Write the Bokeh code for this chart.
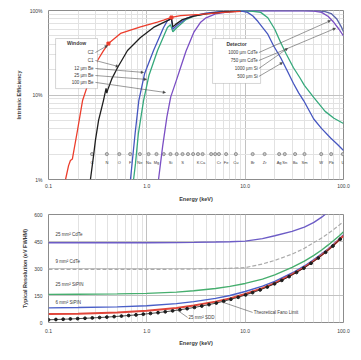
from bokeh.plotting import figure
from bokeh.layouts import column
from bokeh.models import FixedTicker, BoxAnnotation, Range1d, Label, Arrow, NormalHead
from bokeh.embed import file_html
from bokeh.resources import INLINE
from bokeh.core.properties import value

FONT = "Liberation Sans"
TXT = "#3a3a3a"

# ---------------- axes ----------------
x_ticks = [0.1, 1, 10, 100]
x_tick_labels = ["0.1", "1.0", "10.0", "100.0"]
x_minor = [0.2, 0.3, 0.4, 0.5, 0.6, 0.7, 0.8, 0.9, 2, 3, 4, 5, 6, 7, 8, 9,
           20, 30, 40, 50, 60, 70, 80, 90]
eff_ticks = [1, 10, 100]
eff_tick_labels = ["1%", "10%", "100%"]
eff_minor = [2, 3, 4, 5, 6, 7, 8, 9, 20, 30, 40, 50, 60, 70, 80, 90]
res_ticks = [0, 150, 300, 450, 600]

# ---------------- top panel: efficiency (keV, %) ----------------
red_E = [0.149, 0.160, 0.167, 0.175, 0.197, 0.222, 0.26, 0.315, 0.36, 0.407, 0.54,
         0.862, 1.28, 1.48, 1.78, 2.2, 3.5, 6.0, 9.0]
red_eff = [1.0, 1.46, 1.68, 1.75, 3.8, 8.6, 15, 25.6, 33, 40.6, 53.5,
           64, 73, 77, 82.7, 87, 90, 95, 97.5]
red_mark_E = [0.407, 1.78]
red_mark_eff = [40.6, 82.7]

black_E = [0.267, 0.287, 0.300, 0.323, 0.362, 0.385, 0.392, 0.40, 0.44, 0.503, 0.636,
           0.862, 1.17, 1.62, 1.78, 1.84, 1.95, 2.3, 3.0, 4.0, 6.0, 9.0]
black_eff = [1.0, 1.9, 2.9, 5.0, 8.6, 12.0, 10.5, 11.5, 15.5, 21, 33.6,
             48, 63, 76, 80, 64, 68, 78, 86, 91, 96, 98.5]

blue_E = [0.682, 0.71, 0.76, 0.829, 0.95, 1.17, 1.48, 1.62, 1.78, 1.84, 2.0, 2.5, 3.0,
          4.0, 5.5, 7.5, 9.5, 10.57, 12, 13.5, 15, 16.9, 19.5, 22.9, 27, 31, 35, 39.3,
          49.8, 60, 74, 87, 100]
blue_eff = [1.0, 1.6, 3.5, 8.6, 18, 33.6, 62.9, 76, 80, 60, 66, 80, 87,
            93, 97, 98.5, 97.5, 95, 86, 74, 63, 53, 38, 27.8, 19, 13.7, 10.6, 8.6,
            5.2, 4.0, 3.1, 2.6, 2.2]

green_E = [0.733, 0.767, 0.82, 0.926, 1.05, 1.285, 1.62, 1.74, 1.84, 2.0, 2.5, 3.0,
           4.0, 5.5, 7.5, 10, 12, 14.4, 17, 20, 22.9, 26, 31, 36, 40, 50, 65, 80, 100]
green_eff = [1.0, 1.55, 3.5, 8.6, 17, 33.6, 63, 68, 56, 62, 78, 86,
             92, 96.5, 98.5, 99, 98, 95, 82, 60, 42, 31, 21, 16, 13, 9.3, 6.4, 5.3, 4.6]

purple_E = [1.315, 1.45, 1.6, 1.75, 2.0, 2.2, 2.5, 3.0, 3.5, 4.0, 5.0, 7.0, 10, 20,
            40, 50, 60, 70, 80, 90, 100]
purple_eff = [1.0, 2.5, 5.5, 9.5, 15, 21, 33, 55, 72, 82, 91, 97, 99, 99.5,
              99.2, 98.5, 95, 85, 72, 60, 50]

slate_E = [8, 20, 40, 55, 65, 75, 85, 95, 100]
slate_eff = [99.5, 99.5, 99.5, 99, 97, 92, 80, 64, 56]

elem_E = [0.277, 0.392, 0.525, 0.677, 0.849, 1.041, 1.254, 1.487, 1.740, 2.013, 2.307,
          2.622, 2.957, 3.313, 3.691, 4.510, 4.952, 5.414, 6.403, 8.047, 11.92, 15.77,
          22.16, 25.27, 32.19, 40.12, 59.32, 74.97, 98.44]
elem_lbl_names = ["C", "N", "O", "F", "Ne", "Na", "Mg", "Si", "S", "K", "Ca", "Cr", "Fe",
                  "Cu", "Br", "Zr", "Ag", "Sn", "Ba", "Sm", "W", "Pb", "U"]
elem_lbl_E = [0.277, 0.392, 0.525, 0.677, 0.849, 1.041, 1.254, 1.740, 2.307, 3.313, 3.691,
              5.414, 6.403, 8.047, 11.92, 15.77, 22.16, 25.27, 32.19, 40.12, 59.32, 74.97, 98.44]

window_items = ["C2", "C1", "12 µm Be", "25 µm Be", "100 µm Be"]
detector_items = ["1000 µm CdTe", "750 µm CdTe", "1000 µm Si", "500 µm Si"]

# ---------------- bottom panel: resolution (keV, eV FWHM) ----------------
res_E = [0.1, 0.2, 0.5, 1, 2, 3, 5, 7, 10, 15, 20, 30, 40, 50, 60, 70, 80, 90, 100]
cdte_25 = [443, 443, 443, 443, 444, 445, 447, 449, 452, 466, 482, 506, 530, 556, 585, 615, 645, 675, 705]
cdte_9 = [295, 295, 295, 295, 296, 297, 299, 301, 305, 325, 345, 380, 412, 444, 470, 495, 518, 540, 560]
sipin_25 = [156, 157, 159, 162, 169, 176, 189, 201, 217, 241, 265, 306, 341, 373, 403, 431, 457, 481, 504]
sipin_6 = [81, 83, 87, 93, 105, 116, 134, 150, 172, 202, 229, 275, 314, 349, 381, 410, 437, 463, 487]
sdd_25 = [47, 49, 56, 65, 81, 94, 116, 134, 158, 191, 219, 267, 307, 343, 375, 404, 432, 458, 482]
fano_E = [0.1, 0.119, 0.141, 0.167, 0.198, 0.235, 0.279, 0.331, 0.392, 0.465, 0.552, 0.654,
          0.776, 0.921, 1.09, 1.30, 1.54, 1.83, 2.17, 2.57, 3.05, 3.62, 4.29, 5.09, 6.04,
          7.16, 8.5, 10.1, 11.9, 14.2, 16.8, 19.9, 23.6, 28.0, 33.3, 39.5, 46.8, 55.5,
          65.8, 78.1, 92.6]
fano = [15, 16.6, 18.0, 19.6, 21.4, 23.3, 25.4, 27.6, 30.0, 32.8, 35.7, 38.9,
        42.3, 46.1, 50.2, 54.7, 59.6, 64.9, 70.7, 77.0, 83.9, 91.4, 99.5, 108, 118,
        129, 140, 153, 166, 181, 197, 215, 234, 255, 278, 302, 329, 358,
        390, 425, 463]

RED, BLACK, BLUE, GREEN, PURPLE, SLATE = "#ec3d2c", "#1e1e1e", "#4656c0", "#36a97c", "#7b4fc4", "#5a64aa"


def style(p):
    p.outline_line_color = "#8c8c8c"
    p.outline_line_width = 1
    for ax in (p.xaxis, p.yaxis):
        ax.axis_line_color = None
        ax.major_tick_line_color = None
        ax.minor_tick_line_color = None
        ax.major_tick_out = 0
        ax.major_tick_in = 0
        ax.minor_tick_out = 0
        ax.minor_tick_in = 0
        ax.major_label_text_font = FONT
        ax.major_label_text_font_size = "5px"
        ax.major_label_text_color = TXT
        ax.axis_label_text_font = FONT
        ax.axis_label_text_font_style = "bold"
        ax.axis_label_text_color = TXT
        ax.axis_label_text_font_size = "5.5px"
    p.xgrid.grid_line_color = "#c2c2c2"
    p.ygrid.grid_line_color = "#c2c2c2"
    p.xgrid.minor_grid_line_color = "#e2e2e2"


def lbl(p, x, y, text, size="4.5px", align="left", bold=False, color=TXT):
    p.add_layout(Label(x=x, y=y, text=text, text_font=FONT, text_font_size=size,
                       text_align=align, text_baseline="middle", text_color=color,
                       text_font_style="bold" if bold else "normal"))


def leader(p, x0, y0, x1, y1):
    p.add_layout(Arrow(end=NormalHead(size=2.5, fill_color="#444444", line_color="#444444", line_width=0.5),
                       x_start=x0, y_start=y0, x_end=x1, y_end=y1,
                       line_color="#555555", line_width=0.6))


# ================= top figure =================
p1 = figure(width=355, height=208, x_axis_type="log", y_axis_type="log",
            x_range=Range1d(0.1, 100), y_range=Range1d(1, 100),
            output_backend="svg", toolbar_location=None,
            min_border_left=48, min_border_right=12, min_border_top=10, min_border_bottom=29)
style(p1)
p1.xaxis.ticker = FixedTicker(ticks=x_ticks, minor_ticks=x_minor)
p1.xaxis.major_label_overrides = {t: s for t, s in zip(x_ticks, x_tick_labels)}
p1.yaxis.ticker = FixedTicker(ticks=eff_ticks, minor_ticks=eff_minor)
p1.yaxis.major_label_overrides = {t: s for t, s in zip(eff_ticks, eff_tick_labels)}
p1.ygrid.minor_grid_line_color = "#e2e2e2"
p1.xaxis.major_label_standoff = 4
p1.yaxis.major_label_standoff = 6
p1.xaxis.axis_label = "Energy (keV)"
p1.yaxis.axis_label = "Intrinsic Efficiency"
p1.xaxis.axis_label_standoff = 5
p1.yaxis.axis_label_standoff = 5

# element markers
p1.scatter(elem_E, [2.0] * len(elem_E), size=3.2, fill_color="#c4c4c4",
           line_color="#6a6a6a", line_width=0.6)
p1.text(x=elem_lbl_E, y=[1.58] * len(elem_lbl_E), text=elem_lbl_names,
        text_font=value(FONT), text_font_size="4px", text_align="center",
        text_baseline="middle", text_color=TXT)

p1.line(slate_E, slate_eff, line_color=SLATE, line_width=1.3)
p1.line(purple_E, purple_eff, line_color=PURPLE, line_width=1.3)
p1.line(green_E, green_eff, line_color=GREEN, line_width=1.3)
p1.line(blue_E, blue_eff, line_color=BLUE, line_width=1.3)
p1.line(black_E, black_eff, line_color=BLACK, line_width=1.3)
p1.line(red_E, red_eff, line_color=RED, line_width=1.3)
p1.scatter(red_mark_E, red_mark_eff, marker="square", size=3, fill_color=RED, line_color=RED)

# window box
p1.add_layout(BoxAnnotation(left=0.118, right=0.315, bottom=11.9, top=46.6,
                            fill_color="white", fill_alpha=1.0,
                            line_color="#555555", line_width=0.8))
lbl(p1, 0.193, 40.7, "Window", size="5px", align="center", bold=True)
win_y = [31.8, 25.6, 20.6, 17.0, 14.1]
for t, yy in zip(window_items, win_y):
    lbl(p1, 0.287, yy, t, align="right")
win_targets = [(0.398, 38.5), (0.515, 21.7), (0.926, 18.5), (0.993, 15.3), (1.55, 10.7)]
for yy, (tx, ty) in zip(win_y, win_targets):
    leader(p1, 0.30, yy, tx, ty)

# detector box
p1.add_layout(BoxAnnotation(left=4.66, right=14.35, bottom=13.7, top=46.6,
                            fill_color="white", fill_alpha=1.0,
                            line_color="#555555", line_width=0.8))
lbl(p1, 8.17, 39.6, "Detector", size="5px", align="center", bold=True)
det_y = [31.8, 25.6, 20.6, 16.6]
for t, yy in zip(detector_items, det_y):
    lbl(p1, 13.4, yy, t, align="right")
det_targets = [(73.9, 76), (83, 61.6), (27, 35.6), (24, 24.2)]
for yy, (tx, ty) in zip(det_y, det_targets):
    leader(p1, 13.8, yy, tx, ty)

# ================= bottom figure =================
p2 = figure(width=355, height=140, x_axis_type="log",
            x_range=Range1d(0.1, 100), y_range=Range1d(0, 600),
            output_backend="svg", toolbar_location=None,
            min_border_left=48, min_border_right=12, min_border_top=6, min_border_bottom=25)
style(p2)
p2.xaxis.ticker = FixedTicker(ticks=x_ticks, minor_ticks=x_minor)
p2.xaxis.major_label_overrides = {t: s for t, s in zip(x_ticks, x_tick_labels)}
p2.yaxis.ticker = FixedTicker(ticks=res_ticks)
p2.xaxis.major_label_standoff = 6
p2.yaxis.major_label_standoff = 6
p2.xaxis.axis_label = "Energy (keV)"
p2.yaxis.axis_label = "Typical Resolution (eV FWHM)"
p2.xaxis.axis_label_standoff = 4
p2.yaxis.axis_label_standoff = 3

p2.line(res_E, cdte_25, line_color="#6c5cc6", line_width=1.4)
p2.line(res_E, cdte_9, line_color="#ababab", line_width=1.2, line_dash="4 2")
p2.line(res_E, sipin_25, line_color="#46ae6e", line_width=1.4)
p2.line(res_E, sipin_6, line_color="#4a5fc8", line_width=1.4)
p2.line(res_E, sdd_25, line_color="#e0453a", line_width=2.0)
p2.line(fano_E, fano, line_color=BLACK, line_width=0.8)
p2.scatter(fano_E, fano, size=2.8, fill_color=BLACK, line_color=BLACK)

lbl(p2, 0.118, 489, "25 mm² CdTe")
lbl(p2, 0.118, 339, "9 mm² CdTe")
lbl(p2, 0.118, 211, "25 mm² SiPIN")
lbl(p2, 0.118, 111, "6 mm² SiPIN")
lbl(p2, 2.66, 28, "25 mm² SDD")
lbl(p2, 12.2, 56, "Theoretical Fano Limit")
p2.add_layout(Arrow(end=None, x_start=2.6, y_start=28, x_end=2.0, y_end=72,
                    line_color="#555555", line_width=0.6))
p2.add_layout(Arrow(end=None, x_start=11.9, y_start=56, x_end=6.03, y_end=111,
                    line_color="#555555", line_width=0.6))

layout = column(p1, p2)
open("out.html", "w").write(file_html(layout, INLINE))
